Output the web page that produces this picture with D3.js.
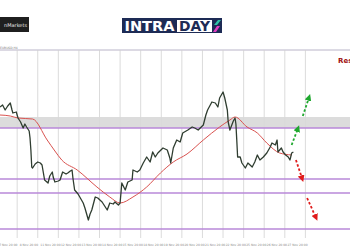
<!DOCTYPE html>
<html>
<head>
<meta charset="utf-8">
<script src="https://cdn.jsdelivr.net/npm/d3@7"></script>
<style>
  body { margin: 0; background: #fff; }
  svg { display: block; font-family: "DejaVu Sans", sans-serif; }
</style>
</head>
<body>
<div id="chart-area"></div>
<script>
// price series (hours from start, price)
var priceHours = [0,3,6,9,12,14,15,19,21,24,27,29,31,34,35,36,37,38,41,44,47,49,52,56,58,61,62,64,68,70,73,77,79,82,84,85,87,91,93,97,99,103,105,107,111,114,119,122,125,128,132,134,138,140,142,146,149,154,155,160,163,167,171,175,178,181,184,190,195,198,199,202,206,210,213,219,224,227,231,237,240,242,247,251,254,256,260,262,265,266,268,272,274,275,276,277,280,282,286,289,294,297,300,303,307,311,315,317,321,323,324,328,330,333,336,338,340,342];
var priceValues = [1.0972,1.0980,1.0960,1.0976,1.0988,1.0960,1.0948,1.0952,1.0928,1.0912,1.0888,1.0904,1.0892,1.0876,1.0848,1.0800,1.0732,1.0728,1.0744,1.0752,1.0748,1.0740,1.0680,1.0668,1.0696,1.0712,1.0692,1.0672,1.0676,1.0680,1.0712,1.0704,1.0708,1.0716,1.0720,1.0688,1.0640,1.0624,1.0612,1.0588,1.0568,1.0520,1.0544,1.0560,1.0612,1.0608,1.0592,1.0576,1.0560,1.0588,1.0584,1.0592,1.0580,1.0588,1.0668,1.0640,1.0672,1.0680,1.0720,1.0712,1.0720,1.0748,1.0772,1.0752,1.0792,1.0772,1.0788,1.0808,1.0800,1.0768,1.0748,1.0808,1.0840,1.0832,1.0868,1.0880,1.0892,1.0888,1.0880,1.0900,1.0940,1.0960,1.0992,1.0988,1.0972,1.1008,1.1032,1.1008,1.0960,1.0912,1.0880,1.0916,1.0928,1.0904,1.0840,1.0772,1.0772,1.0748,1.0728,1.0748,1.0732,1.0752,1.0780,1.0760,1.0772,1.0788,1.0812,1.0828,1.0820,1.0840,1.0792,1.0808,1.0792,1.0780,1.0772,1.0760,1.0788,1.0792];

// moving average
var maHours = [0,12,21,38,55,64,72,90,113,128,140,155,171,187,202,218,237,256,268,274,288,300,311,326,340];
var maValues = [1.0940,1.0936,1.0928,1.0924,1.0840,1.0796,1.0760,1.0720,1.0652,1.0612,1.0588,1.0612,1.0652,1.0708,1.0752,1.0784,1.0840,1.0892,1.0920,1.0932,1.0892,1.0868,1.0828,1.0788,1.0780];

// zones and levels
var resistanceZone = [1.0888, 1.0932];
var levels = [1.0888, 1.0684, 1.0628, 1.0484];

// scenario arrows [h1, p1, h2, p2]
var upArrows = [[340, 1.0820, 347, 1.0884], [353, 1.0936, 360, 1.1008]];
var downArrows = [[345, 1.0760, 352, 1.0688], [358, 1.0608, 368, 1.0532]];

// day grid
var gridHours = [20,44,68,92,116,140,164,188,212,236,260,284,308,332,356];
var gridLabels = ["7 Nov 20:00","8 Nov 20:00","11 Nov 20:00","12 Nov 20:00","13 Nov 20:00","14 Nov 20:00","15 Nov 20:00","18 Nov 20:00","19 Nov 20:00","20 Nov 20:00","21 Nov 20:00","22 Nov 20:00","25 Nov 20:00","26 Nov 20:00","27 Nov 20:00"];

var width = 350, height = 250;
var plotTop = 50, plotBottom = 238;

var svg = d3.select("#chart-area").append("svg")
    .attr("width", width)
    .attr("height", height);

var x = d3.scaleLinear().domain([0, 408]).range([0, width]);
var y = d3.scaleLinear().domain([1.0448, 1.12]).range([plotBottom, plotTop]);

// logos
var leftLogo = svg.append("g");
leftLogo.append("rect").attr("x", 0).attr("y", 17).attr("width", 29).attr("height", 15).attr("fill", "#1f1f1f");
leftLogo.append("text").attr("x", 27).attr("y", 26.5).attr("text-anchor", "end")
    .attr("font-size", "5px").attr("fill", "#e8e8e8").text("nMarkets");

var logo = svg.append("g");
logo.append("rect").attr("x", 122).attr("y", 18).attr("width", 100).attr("height", 15).attr("fill", "#1d2b55");
logo.append("text").attr("x", 124.5).attr("y", 31).attr("font-size", "14px").attr("font-weight", "bold")
    .attr("fill", "#fff").attr("textLength", 50).attr("lengthAdjust", "spacingAndGlyphs").text("INTRA");
logo.append("rect").attr("x", 177).attr("y", 20).attr("width", 35).attr("height", 12).attr("fill", "#fff");
logo.append("text").attr("x", 179).attr("y", 31).attr("font-size", "14px").attr("font-weight", "bold")
    .attr("fill", "#1d2b55").attr("textLength", 31).attr("lengthAdjust", "spacingAndGlyphs").text("DAY");
logo.append("path").attr("d", "M214,25 L218,20 L221,20 L217,25 Z").attr("fill", "#2ec4a6");
logo.append("path").attr("d", "M213,32 L217,26 L220,26 L216,32 Z").attr("fill", "#e23bbf");

// frame
svg.append("line").attr("x1", 0).attr("x2", width).attr("y1", plotTop).attr("y2", plotTop)
    .attr("stroke", "#b9b4c8").attr("stroke-width", 1);
svg.append("text").attr("x", 0).attr("y", 49).attr("font-size", "3px").attr("fill", "#777").text("EURUSD,H4");

// grid
svg.selectAll(".grid").data(gridHours).enter().append("line")
    .attr("class", "grid")
    .attr("x1", function(d) { return x(d); }).attr("x2", function(d) { return x(d); })
    .attr("y1", plotTop).attr("y2", plotBottom)
    .attr("stroke", "#d2d2d2").attr("stroke-width", 0.8);

svg.selectAll(".tick-label").data(gridHours).enter().append("text")
    .attr("class", "tick-label")
    .attr("x", function(d) { return x(d) - 18; })
    .attr("y", 246)
    .attr("font-size", "3px").attr("fill", "#888")
    .text(function(d, i) { return gridLabels[i]; });

// resistance zone
svg.append("rect")
    .attr("x", 0).attr("width", width)
    .attr("y", y(resistanceZone[1]))
    .attr("height", y(resistanceZone[0]) - y(resistanceZone[1]))
    .attr("fill", "#d8d8d8").attr("opacity", 0.9);

// levels
svg.selectAll(".level").data(levels).enter().append("line")
    .attr("class", "level")
    .attr("x1", 0).attr("x2", width)
    .attr("y1", function(d) { return y(d); }).attr("y2", function(d) { return y(d); })
    .attr("stroke", "#b889d8").attr("stroke-width", 1.3);

// moving average
var maLine = d3.line()
    .x(function(d, i) { return x(maHours[i]); })
    .y(function(d) { return y(d); })
    .curve(d3.curveMonotoneX);
svg.append("path").datum(maValues)
    .attr("d", maLine)
    .attr("fill", "none").attr("stroke", "#d9524f").attr("stroke-width", 1);

// price
var priceLine = d3.line()
    .x(function(d, i) { return x(priceHours[i]); })
    .y(function(d) { return y(d); });
svg.append("path").datum(priceValues)
    .attr("d", priceLine)
    .attr("fill", "none").attr("stroke", "#2f3d30").attr("stroke-width", 1.3)
    .attr("stroke-linejoin", "round");

// arrows
var defs = svg.append("defs");
[["up", "#1fa82e"], ["down", "#e01b1b"]].forEach(function(m) {
  defs.append("marker")
      .attr("id", "head-" + m[0])
      .attr("viewBox", "0 0 10 10").attr("refX", 4).attr("refY", 5)
      .attr("markerWidth", 3.8).attr("markerHeight", 3.8)
      .attr("orient", "auto")
    .append("path").attr("d", "M0,0 L10,5 L0,10 Z").attr("fill", m[1]);
});

function drawArrows(data, color, id) {
  svg.selectAll(".arrow-" + id).data(data).enter().append("line")
      .attr("class", "arrow-" + id)
      .attr("x1", function(d) { return x(d[0]); }).attr("y1", function(d) { return y(d[1]); })
      .attr("x2", function(d) { return x(d[2]); }).attr("y2", function(d) { return y(d[3]); })
      .attr("stroke", color).attr("stroke-width", 1.8)
      .attr("stroke-dasharray", "2.5,2")
      .attr("marker-end", "url(#head-" + id + ")");
}
drawArrows(upArrows, "#1fa82e", "up");
drawArrows(downArrows, "#e01b1b", "down");

// label
svg.append("text").attr("x", 338).attr("y", 63)
    .attr("font-size", "7px").attr("font-weight", "bold").attr("fill", "#a01010")
    .text("Resistance");
</script>
</body>
</html>
